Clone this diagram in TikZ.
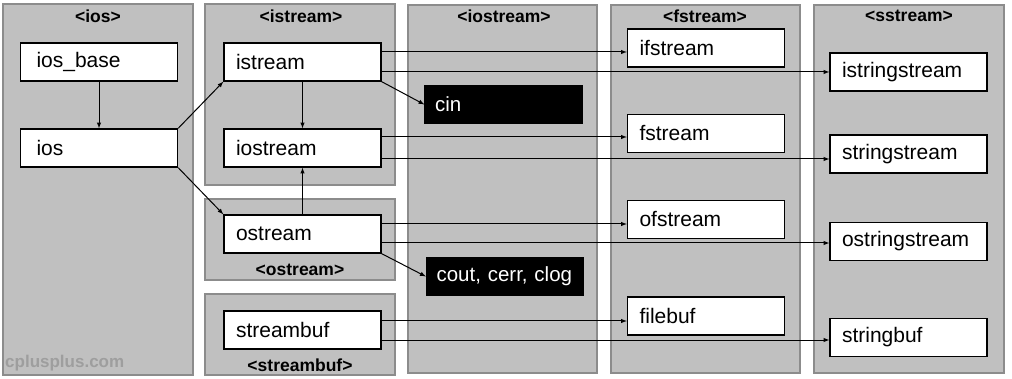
\documentclass[tikz,border=0pt]{standalone}
\usepackage{fontspec}
\setmainfont{Liberation Sans}
\definecolor{panefill}{RGB}{192,192,192}
\definecolor{panegray}{RGB}{140,140,140}
\definecolor{markgray}{RGB}{158,158,158}
\begin{document}
\begin{tikzpicture}[x=1pt, y=-1pt, >=latex,
    pane/.style={draw=panegray, fill=panefill, line width=2.5pt},
    hdr/.style={font=\fontsize{17.5}{19}\selectfont\bfseries, inner sep=0pt},
    cls/.style={draw=black, fill=white, line width=1.3pt,
                minimum width=157pt, minimum height=38pt, inner xsep=12pt,
                text width=133pt, align=left, font=\fontsize{21}{23}\selectfont},
    base/.style={cls, inner xsep=16pt, text width=125pt},
    obj/.style={cls, fill=black, text=white, inner xsep=10pt, text width=137pt,
                font=\fontsize{20.5}{23}\selectfont},
    flow/.style={->, line width=1pt, draw=black}]

  \useasboundingbox (0,0) rectangle (1012,379);

  % ---- the header panels
  \draw[pane] (3,4) rectangle (193,375);
  \draw[pane] (205,4) rectangle (395,185);
  \draw[pane] (205,199) rectangle (395,280);
  \draw[pane] (205,294) rectangle (395,375);
  \draw[pane] (408,5) rectangle (597,373);
  \draw[pane] (611,5) rectangle (800,373);
  \draw[pane] (814,5) rectangle (1004,373);

  \node[hdr] (hIos) at (98,16) {<ios>};
  \node[hdr] (hIstream) at (301,16) {<istream>};
  \node[hdr] (hIostream) at (504,16) {<iostream>};
  \node[hdr] (hFstream) at (705,16) {<fstream>};
  \node[hdr] (hSstream) at (909,16) {<sstream>};
  \node[hdr] (hOstream) at (300,270) {<ostream>};
  \node[hdr] (hStreambuf) at (300,365) {<streambuf>};
  \node[font=\fontsize{17}{19}\selectfont\bfseries, text=markgray,
        anchor=west, inner sep=0pt] (mark) at (5,363) {cplusplus.com};

  % ---- the classes
  \node[base] (iosbase) at (99,62) {ios\_base};
  \node[base] (ios) at (99,148) {ios};
  \node[cls] (istream) at (302.5,62) {istream};
  \node[cls] (iostream) at (302.5,148) {iostream};
  \node[cls] (ostream) at (302.5,234) {ostream};
  \node[cls] (streambuf) at (302.5,330) {streambuf};
  \node[obj] (cin) at (503.5,104.5) {cin};
  \node[obj] (cout) at (505,276.5) {cout, cerr, clog};
  \node[cls] (ifstream) at (706,48) {ifstream};
  \node[cls] (fstream) at (706,133.5) {fstream};
  \node[cls] (ofstream) at (706,219.5) {ofstream};
  \node[cls] (filebuf) at (706,316) {filebuf};
  \node[cls] (istringstream) at (908.5,72) {istringstream};
  \node[cls] (stringstream) at (908.5,154) {stringstream};
  \node[cls] (ostringstream) at (908.5,241.5) {ostringstream};
  \node[cls] (stringbuf) at (908.5,337.5) {stringbuf};

  % ---- inheritance
  \draw[flow] (iosbase) -- (ios);
  \draw[flow] (ios.north east) -- (istream.south west);
  \draw[flow] (ios.south east) -- (ostream.north west);
  \draw[flow] (istream) -- (iostream);
  \draw[flow] (ostream) -- (iostream);
  \draw[flow] (istream.south east) -- (cin.west);
  \draw[flow] (ostream.south east) -- (cout.west);

  % ---- to the file and string streams
  \draw[flow] ([yshift=10pt]istream.east) -- ([yshift=10pt]istream.east -| ifstream.west);
  \draw[flow] ([yshift=-10pt]istream.east) -- ([yshift=-10pt]istream.east -| istringstream.west);
  \draw[flow] ([yshift=11pt]iostream.east) -- ([yshift=11pt]iostream.east -| fstream.west);
  \draw[flow] ([yshift=-11pt]iostream.east) -- ([yshift=-11pt]iostream.east -| stringstream.west);
  \draw[flow] ([yshift=10pt]ostream.east) -- ([yshift=10pt]ostream.east -| ofstream.west);
  \draw[flow] ([yshift=-9pt]ostream.east) -- ([yshift=-9pt]ostream.east -| ostringstream.west);
  \draw[flow] ([yshift=9pt]streambuf.east) -- ([yshift=9pt]streambuf.east -| filebuf.west);
  \draw[flow] ([yshift=-10pt]streambuf.east) -- ([yshift=-10pt]streambuf.east -| stringbuf.west);
\end{tikzpicture}
\end{document}
